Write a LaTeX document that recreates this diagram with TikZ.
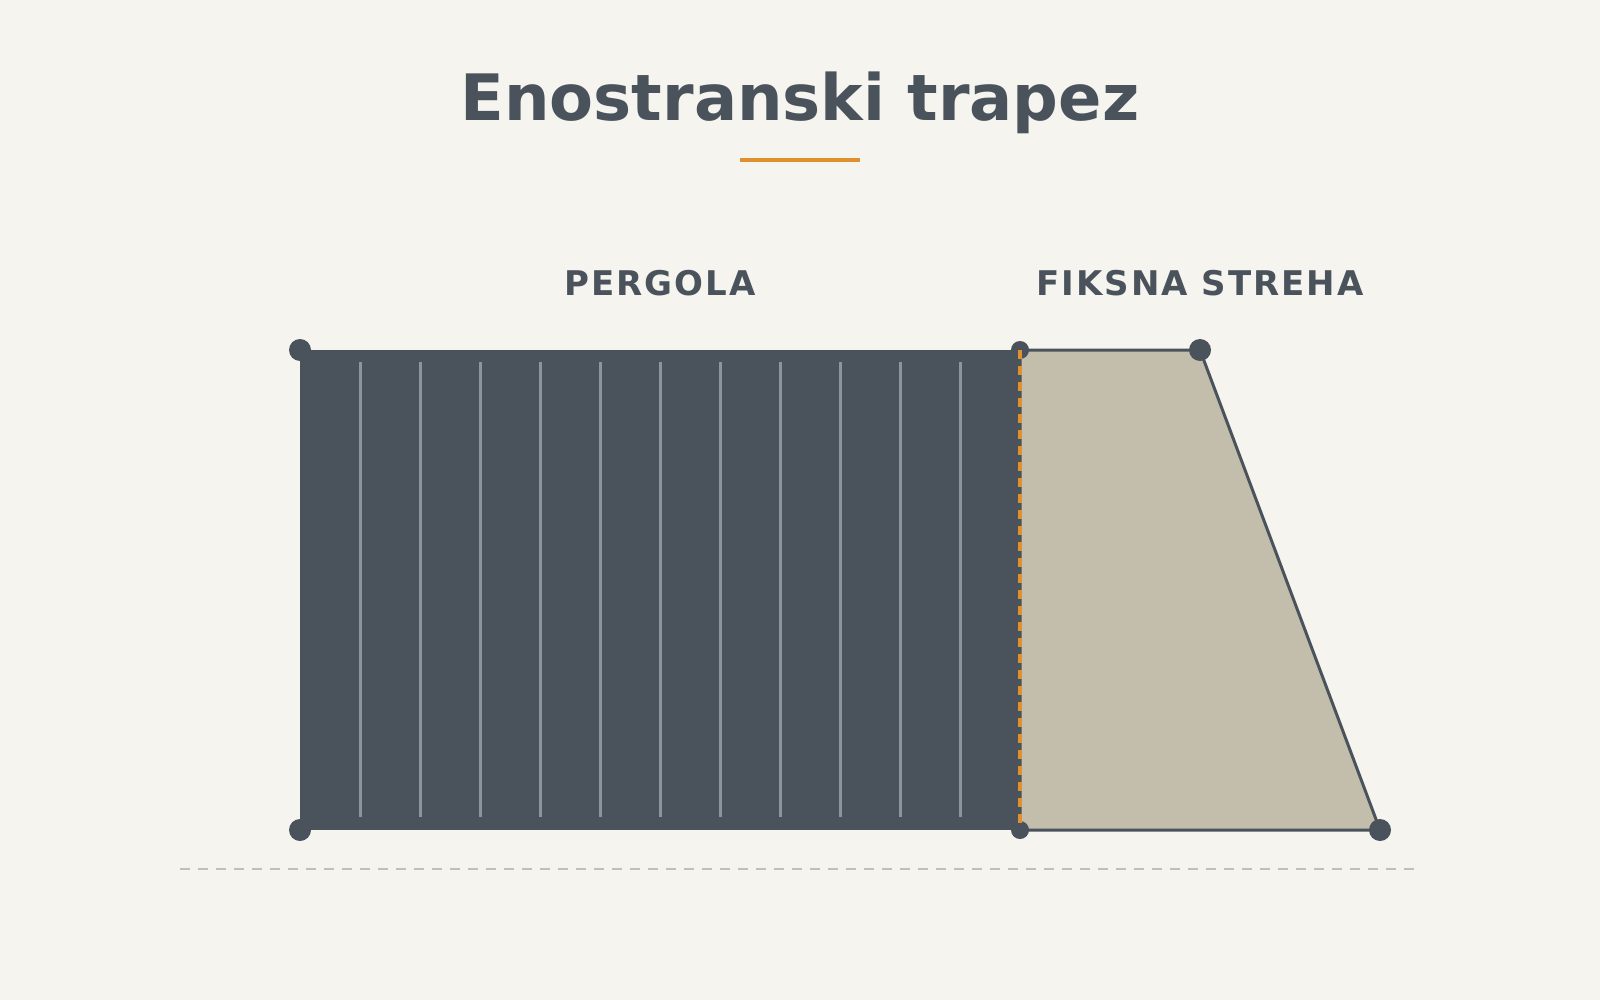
\documentclass[tikz,border=0pt]{standalone}
\usepackage{fontspec}
\setmainfont{DejaVu Sans}
\newfontfamily\titlefont{DejaVu Sans Bold}
\newfontfamily\labelfont[LetterSpace=6]{DejaVu Sans Bold}
\definecolor{bg}{HTML}{F5F4EF}
\definecolor{dark}{HTML}{4A535B}
\definecolor{slat}{HTML}{8A959F}
\definecolor{roof}{HTML}{C3BDAB}
\definecolor{accent}{HTML}{E0902E}
\definecolor{base}{HTML}{C2BFB4}
\tikzset{
  corner/.style={circle,fill=dark,inner sep=0pt,minimum size=22pt},
  smallcorner/.style={circle,fill=dark,inner sep=0pt,minimum size=18pt},
  slatline/.style={slat,line width=3pt},
  lbl/.style={text=dark,font=\labelfont\fontsize{34}{40}\selectfont,anchor=base},
}
\begin{document}
\begin{tikzpicture}[x=1pt,y=-1pt]
\useasboundingbox (0,0) rectangle (1600,1000);
\fill[bg] (0,0) rectangle (1600,1000);
% title
\node[text=dark,font=\titlefont\fontsize{64}{70}\selectfont,anchor=base] (title) at (800,121) {Enostranski trapez};
\coordinate (ul) at (740,160);
\coordinate (ur) at (860,160);
\draw[accent,line width=4pt] (ul) -- (ur);
% labels
\node[lbl] (lp) at (660,295) {PERGOLA};
\node[lbl] (lf) at (1200,295) {FIKSNA STREHA};
% baseline
\coordinate (b1) at (180,869);
\coordinate (b2) at (1414,869);
\draw[base,line width=1.5pt,dash pattern=on 10pt off 8pt] (b1) -- (b2);
% corner coordinates
\coordinate (p1) at (300,350);
\coordinate (p2) at (1020,350);
\coordinate (p3) at (1020,830);
\coordinate (p4) at (300,830);
\coordinate (t2) at (1200,350);
\coordinate (t3) at (1380,830);
% fixed roof
\filldraw[fill=roof,draw=dark,line width=3pt,line join=round] (p2) -- (t2) -- (t3) -- (p3) -- cycle;
% pergola
\fill[dark] (p1) rectangle (p3);
\foreach \i in {1,...,11} {
  \draw[slatline] (300+60*\i,362) -- (300+60*\i,817);
}
% corner dots
\node[corner] (c1) at (p1) {};
\node[corner] (c4) at (p4) {};
\node[corner] (c5) at (t2) {};
\node[corner] (c6) at (t3) {};
\node[smallcorner] (c2) at (p2) {};
\node[smallcorner] (c3) at (p3) {};
% junction
\draw[accent,line width=3.5pt,dash pattern=on 9pt off 7pt] (p2) -- (p3);
\end{tikzpicture}
\end{document}
